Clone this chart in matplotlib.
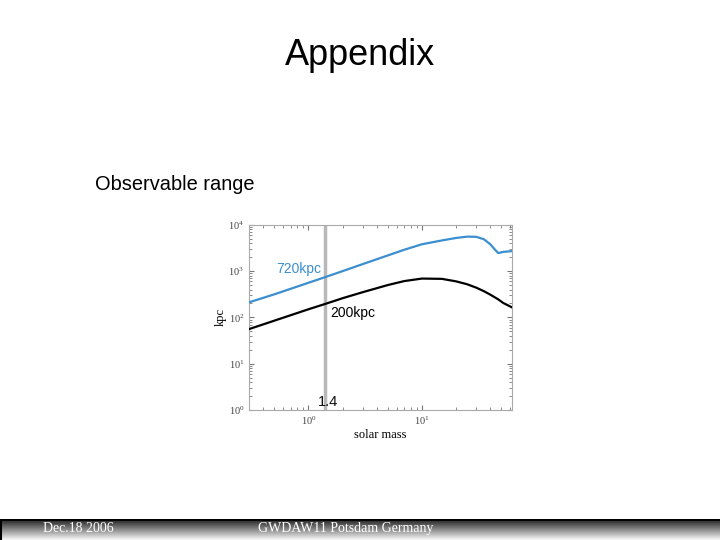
import numpy as np
import matplotlib.pyplot as plt

# данные
mass = [0.3, 0.5, 1.0, 1.4, 2, 3, 5, 7, 10, 15, 20, 25, 30, 35, 40, 44, 47, 52, 62]
range_720 = [212, 315, 560, 740, 1000, 1415, 2180, 2900, 3800, 4600, 5200, 5550, 5500, 4900, 3800, 2900, 2450, 2600, 2700]
range_200 = [56, 85, 150, 195, 260, 350, 500, 610, 690, 680, 600, 520, 440, 370, 310, 270, 245, 205, 165]
m_limit = 1.4

fig = plt.figure(figsize=(7.2, 5.4), dpi=100)

fig.text(0.5, 0.898, 'Appendix', ha='center', va='center', fontsize=26, family='Liberation Sans')
fig.text(0.132, 0.658, 'Observable range', ha='left', va='center', fontsize=14.4, family='Liberation Sans')

ax = fig.add_axes([0.346, 0.2407, 0.365, 0.343])
ax.set_xscale('log')
ax.set_yscale('log')
ax.set_xlim(0.3, 62)
ax.set_ylim(1, 1e4)

ax.axvline(m_limit, color='#b8b8b8', lw=2.5, zorder=1)
ax.plot(mass, range_720, color='#3b8fd0', lw=1.6, zorder=3)
ax.plot(mass, range_200, color='black', lw=1.6, zorder=3)

ax.text(0.52, 770, '720kpc', color='#3b8fd0', fontsize=10, family='Liberation Sans', ha='left', va='bottom')
ax.text(1.55, 125, '200kpc', color='black', fontsize=10, family='Liberation Sans', ha='left', va='center')
ax.text(1.48, 1.5, '1.4', color='#111111', fontsize=10.5, family='Liberation Sans', ha='center', va='center')

ax.set_xlabel('solar mass', family='Liberation Serif', fontsize=9, labelpad=1)
ax.set_ylabel('kpc', family='Liberation Serif', fontsize=9, labelpad=1)
ax.set_xticks([1, 10])
ax.set_yticks([1, 10, 100, 1000, 10000])
ax.tick_params(which='both', direction='in', top=True, right=True, labelsize=7.5, colors='#777777', labelcolor='#444444')
for lab in ax.get_xticklabels() + ax.get_yticklabels():
    lab.set_family('Liberation Serif')
for s in ax.spines.values():
    s.set_color('#aaaaaa')

# нижняя полоса с вертикальным градиентом
bar = fig.add_axes([0, 0, 1, 21 / 540])
grad = np.linspace(0.12, 0.97, 40)[:, None] * np.ones((1, 10))
bar.imshow(grad, cmap='gray', aspect='auto', extent=[0, 1, 0, 1], vmin=0, vmax=1, origin='upper')
bar.axhline(1, color='black', lw=2)
bar.axvline(0.002, color='black', lw=1.5)
bar.set_xlim(0, 1)
bar.set_ylim(0, 1)
bar.axis('off')
fig.text(0.06, 0.022, 'Dec.18 2006', color='white', fontsize=10, family='Liberation Serif', va='center')
fig.text(0.358, 0.022, 'GWDAW11 Potsdam Germany', color='white', fontsize=10, family='Liberation Serif', va='center')

plt.savefig('out.png', dpi=100)
plt.close(fig)
